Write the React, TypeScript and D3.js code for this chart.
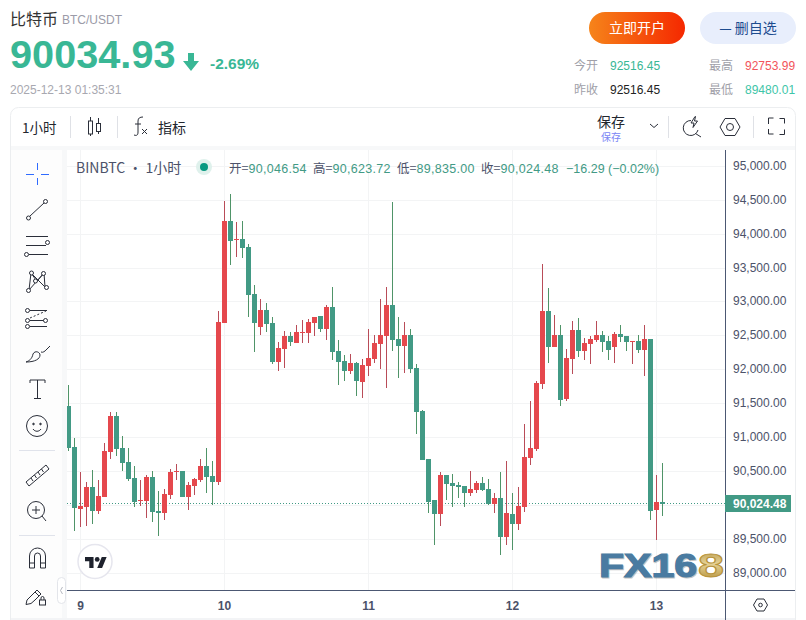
import React from "react";
import * as d3 from "d3";

const W = 806, H = 620;

const opens = [91464,90859,89944,89973,90268,89914,90121,90785,91316,90844,90637,90401,90062,90062,90416,89914,89885,90150,90490,90505,90121,90283,90372,90578,90431,90342,
92689,94195,93914,93929,93811,93117,92630,92881,92689,92114,92306,92497,92394,92542,92542,92689,92793,92601,92925,92276,92129,91981,92099,91819,92055,92158,92379,92497,
92955,92453,92350,92512,92025,91391,90682,90077,89871,90446,90328,90299,90284,90181,90225,90328,90240,90018,90107,89531,89871,89723,89974,90697,
90830,91789,92866,92335,92512,91568,92158,92586,92276,92379,92438,92512,92424,92335,92527,92497,92409,92424,92291,92453,89930,90046.54];
const highs = [91774,90992,90490,90342,90519,90372,90918,91375,91375,91021,90844,90578,90372,90446,90505,90209,90239,90534,90608,90505,90342,90401,90682,90844,90652,92866,
94490,94593,94180,94195,93855,93250,93043,92984,92778,92409,92571,92556,92660,92734,92748,92778,92793,92955,93221,92438,92217,92232,92114,92158,92601,92512,93043,93221,
94475,92778,92704,92601,92084,91406,90682,90077,90491,90446,90461,90343,90284,90505,90358,90417,90387,90181,90491,90653,90181,90269,91199,91538,
91833,93560,93206,92807,92660,92306,92719,92763,92468,92497,92719,92571,92497,92556,92660,92497,92424,92512,92660,92453,90446,90623.72];
const lows = [90800,89619,89678,89693,89722,89870,90121,90682,90726,90505,90357,89973,89988,89811,89752,89545,89781,90091,90372,90121,89929,90150,90342,90180,90003,90298,
92689,93545,93663,93649,92778,92261,92512,92556,92084,91981,92025,92350,92394,92394,92394,92497,92556,92438,92143,91774,91833,91937,91612,91583,91907,92099,92010,91730,
92276,91878,91952,91952,91051,90668,89886,89413,89694,90077,89974,90107,89974,90136,90181,90210,90004,89886,89266,89413,89340,89635,89900,90594,
90800,91715,92099,92335,91464,91538,91937,92188,92143,92084,92409,92261,92143,92099,92409,92276,92084,92247,91907,89782,89487,89835];
const closes = [90844,89959,89988,90268,89914,90136,90800,91316,90829,90623,90386,90047,90077,90416,89899,89885,90165,90490,90505,90121,90298,90386,90578,90416,90342,92704,
94195,93899,93929,93796,93103,92689,92881,92675,92114,92320,92497,92409,92556,92556,92704,92778,92601,92925,92261,92114,91981,92099,91833,92070,92173,92394,92512,92955,
92439,92350,92512,92011,91376,90668,90048,89871,90446,90314,90284,90269,90181,90240,90328,90225,90018,90107,89531,89886,89723,89989,90712,90845,
91804,92866,92335,92512,91553,92173,92586,92276,92394,92453,92512,92409,92291,92527,92483,92409,92424,92291,92453,89915,90048,90024.48];

const priceTicks = [95000,94500,94000,93500,93000,92500,92000,91500,91000,90500,90000,89500,89000];
const hiddenTickLabels = [90000];
const dayLabels = ["9","10","11","12","13"];
const dayIndex = [2,26,50,74,98];
const lastPrice = 90024.48;
const legendItems = [["开=","90,046.54"],["高=","90,623.72"],["低=","89,835.00"],["收=","90,024.48"]];
const legendX = [229,313,397,481];

const SANS = "'Liberation Sans', Arial, 'Noto Sans CJK SC', sans-serif";
const CJK = "'Noto Sans CJK SC', 'Liberation Sans', sans-serif";
const GREEN = "#429a85", RED = "#e5484d", WGREEN = "#4f9468", WRED = "#b94c58";
const UP = "#39b795", AXIS = "#4c5873", GRID = "#f3f4f5", INK = "#22262e";

const x = d3.scaleLinear().domain([0, 99]).range([68.5, 662.5]);
const y = d3.scaleLinear().domain([89000, 95000]).range([573, 166.4]);
const fmt = d3.format(",.2f");
const snap = (v: number) => Math.floor(v) + 0.5;

const icon = { fill: "none", stroke: "#2a2e39", strokeWidth: 1 } as const;
const Dot = ({ cx, cy, r = 2 }: { cx: number; cy: number; r?: number }) => (
  <circle cx={cx} cy={cy} r={r} fill="#fff" stroke="#2a2e39" />
);

function LeftTools() {
  return (
    <g>
      <g stroke="#2f6bff" strokeWidth={1} fill="none" shapeRendering="crispEdges">
        <path d="M37.5 163v7M37.5 178v7M26 174.5h8M41 174.5h8" />
      </g>
      <g {...icon}>
        <path d="M30 216L44 203" /><Dot cx={28.5} cy={218} /><Dot cx={45.5} cy={201.5} />
        <path d="M26 236.5h22M26 245.5h20M29 254.5h19" /><Dot cx={47.5} cy={242.5} /><Dot cx={26.5} cy={254.5} />
        <path d="M29 290L31 273L45 287L44 273L29 290M31 273L36 280M44 273L38 280" />
        <Dot cx={28.5} cy={290.5} /><Dot cx={31.5} cy={273} /><Dot cx={35.5} cy={281} /><Dot cx={43.5} cy={273.5} /><Dot cx={46.5} cy={287.5} />
        <path d="M30 310.5h17M30 320.5h15M30 326.5h17" /><path d="M30 318L46 311" strokeDasharray="2 2" />
        <Dot cx={27.5} cy={310.5} /><Dot cx={27.5} cy={320.5} /><Dot cx={27.5} cy={326.5} /><Dot cx={45.5} cy={320.5} />
        <path d="M26 362c3-1 6-3 7-8 2-4 7-2 7 1 0 4-5 7-14 7zM41 352c2 1 4-1 5-2l4-4" />
        <path d="M30 383v-3h15v3M37.5 380v18M34 398.5h7" />
        <circle cx={37} cy={426} r={10.5} /><path d="M33 429c2 3 6 3 8 0" /><circle cx={33.5} cy={424} r={0.8} fill="#2a2e39" /><circle cx={40.5} cy={424} r={0.8} fill="#2a2e39" />
        <path d="M26 482l20-17 3 4-20 17zM31 478l2 3M34.500 475l2 3M38 472l2 3M41.500 469l2 3" />
        <circle cx={36} cy={510} r={8.500} /><path d="M32 510h8M36 506v8M42 516l4 5" />
        <path d="M29.500 568v-12a8 8 0 0 1 16 0v12h-5v-12a3 3 0 0 0-6 0v12zM29.500 563h5M40.500 563h5" />
        <path d="M27 600l10-10 4 4-6 6M27 600l-1 4.500 5-1 4-3.500M35 592l4 4" /><rect x={39.500} y={600} width={6} height={5} /><path d="M41 600v-2a1.500 1.500 0 0 1 3 0v2" />
      </g>
      <path d="M19 450.500h36M19 535.500h36" stroke="#e0e3eb" shapeRendering="crispEdges" />
    </g>
  );
}

function TopTools() {
  return (
    <g>
      <g {...icon}>
        <path d="M90.500 117v19M98.500 118v16" /><rect x={88.500} y={121} width={4} height={13} fill="#fff" stroke="#2a2e39" /><rect x={96.500} y={123.500} width={4} height={8} fill="#fff" stroke="#2a2e39" />
        <path d="M134 135c3 1 4 0 4-3v-11c0-3 2-4 5-4M135 124h6M142 129l5 5M147 129l-5 5" />
        <path d="M650 124l4 3.500 4-3.500" />
        <path d="M691 120.500a7.500 7.500 0 1 0 7 9.500M695.500 133.500l5.500 3.500M695 116.500l-4 6.500h3l-1 4.500 4.500-6.500h-3l1-4.500z" />
        <path d="M720 127l5-8.500h10l5 8.500-5 8.500h-10z" /><circle cx={730} cy={127} r={3.500} />
        <path d="M768.500 124v-6h5M779.500 118.500h5v5M768.500 129v5h5M779.500 134.500h5v-5" />
      </g>
      <path d="M70.500 116v22M117.500 116v22M668.500 116v22M753.500 116v22" stroke="#dfe1e6" shapeRendering="crispEdges" />
    </g>
  );
}

export default function App() {
  const yLast = snap(y(lastPrice));
  return (
    <svg width={W} height={H} viewBox={`0 0 ${W} ${H}`} style={{ position: "absolute", left: 0, top: 0, background: "#fff" }}>
      <defs>
        <linearGradient id="btn"><stop offset="0" stopColor="#f6841a" /><stop offset="1" stopColor="#f52800" /></linearGradient>
        <linearGradient id="gold" x1="0" y1="0" x2="0" y2="1"><stop offset="0" stopColor="#b08f3c" /><stop offset="0.45" stopColor="#e6d296" /><stop offset="1" stopColor="#ab8529" /></linearGradient>
        <clipPath id="pane"><rect x={67} y={150} width={658} height={440} /></clipPath>
      </defs>

      {/* header */}
      <text x={10} y={25} fontFamily={CJK} fontSize={16} fill="#333">比特币</text>
      <text x={62} y={24} fontFamily={SANS} fontSize={12} fill="#9b9ba8">BTC/USDT</text>
      <text x={10} y={68} fontFamily={SANS} fontSize={39.7} fontWeight={700} fill={UP}>90034.93</text>
      <path d="M188 53h6v8h5l-8 10-8-10h5z" fill={UP} />
      <text x={210} y={69} fontFamily={SANS} fontSize={15.5} fontWeight={700} fill={UP}>-2.69%</text>
      <text x={10} y={94} fontFamily={SANS} fontSize={12} fill="#a8a8b0">2025-12-13 01:35:31</text>

      <rect x={589} y={12} width={96} height={32} rx={16} fill="url(#btn)" />
      <text x={637} y={33} textAnchor="middle" fontFamily={CJK} fontSize={14} fill="#fff">立即开户</text>
      <rect x={700} y={12} width={96} height={32} rx={16} fill="#e8eefc" />
      <text x={748} y={33} textAnchor="middle" fontFamily={CJK} fontSize={14} fill="#1d4c8f">— 删自选</text>

      <g fontSize={12}>
        <text x={574} y={70} fontFamily={CJK} fill="#a0a0a8">今开</text>
        <text x={610} y={70} fontFamily={SANS} fill={UP}>92516.45</text>
        <text x={709} y={70} fontFamily={CJK} fill="#a0a0a8">最高</text>
        <text x={745} y={70} fontFamily={SANS} fill="#f2545b">92753.99</text>
        <text x={574} y={94} fontFamily={CJK} fill="#a0a0a8">昨收</text>
        <text x={610} y={94} fontFamily={SANS} fill="#222">92516.45</text>
        <text x={709} y={94} fontFamily={CJK} fill="#a0a0a8">最低</text>
        <text x={745} y={94} fontFamily={SANS} fill="#3ec5a8">89480.01</text>
      </g>

      {/* widget frame */}
      <rect x={10.5} y={107.5} width={785} height={530} rx={8} fill="#fff" stroke="#eceef0" />
      <rect x={11} y={146} width={784} height={4} fill="#f7f8f9" />
      <rect x={11} y={150} width={51} height={470} fill="#fdfdfd" />
      <rect x={62} y={150} width={5} height={470} fill="#f7f8f9" />
      <rect x={11} y={618} width={784} height={2} fill="#f3f4f6" />

      <text x={22} y={133} fontFamily={CJK} fontSize={13.5} fill={INK}>1小时</text>
      <text x={158} y={133} fontFamily={CJK} fontSize={14} fill={INK}>指标</text>
      <text x={597} y={127} fontFamily={CJK} fontSize={14} fill={INK}>保存</text>
      <text x={601} y={141} fontFamily={CJK} fontSize={10} fill="#7b86f5">保存</text>
      <TopTools />
      <LeftTools />

      {/* grid */}
      <g stroke={GRID} shapeRendering="crispEdges">
        {priceTicks.map((t) => <line key={t} x1={67} x2={725} y1={snap(y(t))} y2={snap(y(t))} />)}
        {dayIndex.map((d) => <line key={d} x1={x(d)} x2={x(d)} y1={150} y2={590} />)}
      </g>

      {/* last price line */}
      <line x1={67} x2={725} y1={yLast} y2={yLast} stroke={GREEN} strokeDasharray="1 2" shapeRendering="crispEdges" />

      {/* candles */}
      <g clipPath="url(#pane)" shapeRendering="crispEdges">
        {opens.map((o, i) => {
          const c = closes[i];
          const up = c >= o;
          const top = Math.round(y(Math.max(o, c)));
          const bottom = Math.round(y(Math.min(o, c)));
          return (
            <g key={i}>
              <rect x={x(i) - 0.5} width={1} y={Math.round(y(highs[i]))} height={Math.max(1, Math.round(y(lows[i])) - Math.round(y(highs[i])))} fill={up ? WRED : WGREEN} />
              <rect x={x(i) - 2.5} width={5} y={top} height={Math.max(1, bottom - top)} fill={up ? RED : GREEN} />
            </g>
          );
        })}
      </g>

      {/* legend */}
      <text x={76} y={173} fontFamily={CJK} fontSize={14} fill="#4c5269">BINBTC · 1小时</text>
      <circle cx={204} cy={167} r={8} fill="#dff1ec" />
      <circle cx={204} cy={167} r={4} fill="#089981" />
      <g fontSize={12.500}>
        {legendItems.map(([k, v], i) => (
          <text key={k} x={legendX[i]} y={173} fontFamily={SANS} fill="#4c5269">
            <tspan fontFamily={CJK} fontSize={12.500}>{k}</tspan><tspan fill={GREEN} letterSpacing={0.3}>{v}</tspan>
          </text>
        ))}
        <text x={566} y={173} fontFamily={SANS} fill={GREEN}>−16.29 (−0.02%)</text>
      </g>

      {/* logo */}
      <circle cx={95} cy={561.500} r={17} fill="#fff" stroke="#e6e6ee" strokeWidth={1.500} />
      <path transform="translate(85 554.500) scale(0.61)" d="M14 22H7V11H0V4h14v18zM28 22h-8l7.500-18h8L28 22z" fill="#1e222d" />
      <circle cx={97.200} cy={559.400} r={2.400} fill="#1e222d" />

      {/* axes */}
      <line x1={725.500} x2={725.500} y1={150} y2={620} stroke={AXIS} shapeRendering="crispEdges" />
      <line x1={67} x2={795} y1={590.500} y2={590.500} stroke={AXIS} shapeRendering="crispEdges" />
      <g fontFamily={SANS} fontSize={12} fill="#4c5269">
        {priceTicks.filter((t) => !hiddenTickLabels.includes(t)).map((t) => <text key={t} x={733} y={snap(y(t)) + 3}>{fmt(t)}</text>)}
        {dayIndex.map((d, i) => <text key={d} x={x(d)} y={610} textAnchor="middle" fontWeight={700}>{dayLabels[i]}</text>)}
      </g>
      <rect x={725} y={495} width={66} height={17} fill={GREEN} />
      <text x={733} y={507.500} fontFamily={SANS} fontSize={12} fontWeight={700} fill="#fff">{fmt(lastPrice)}</text>
      <g fill="none" stroke="#2a2e39">
        <path d="M753.500 605l3.500-6h7l3.500 6-3.500 6h-7z" /><circle cx={760.500} cy={605} r={1.800} />
      </g>

      {/* collapse handle */}
      <rect x={57.500} y={577.500} width={8} height={26} rx={4} fill="#fff" stroke="#e3e5ea" />
      <path d="M62.500 587l-2 3.500 2 3.500" fill="none" stroke="#b5b8c0" />

      {/* watermark */}
      <g fontFamily={SANS} fontSize={33} fontWeight={700} lengthAdjust="spacingAndGlyphs">
        <text x={600} y={578} fill="#555" opacity={0.35} stroke="#555" strokeWidth={1.200} textLength={98} lengthAdjust="spacingAndGlyphs">FX16</text>
        <text x={599} y={577} fill="#4a7ba1" stroke="#4a7ba1" strokeWidth={1.200} textLength={98} lengthAdjust="spacingAndGlyphs">FX16</text>
        <text x={698} y={577} fill="url(#gold)" stroke="#b8943c" strokeWidth={1} textLength={26} lengthAdjust="spacingAndGlyphs">8</text>
      </g>
    </svg>
  );
}
